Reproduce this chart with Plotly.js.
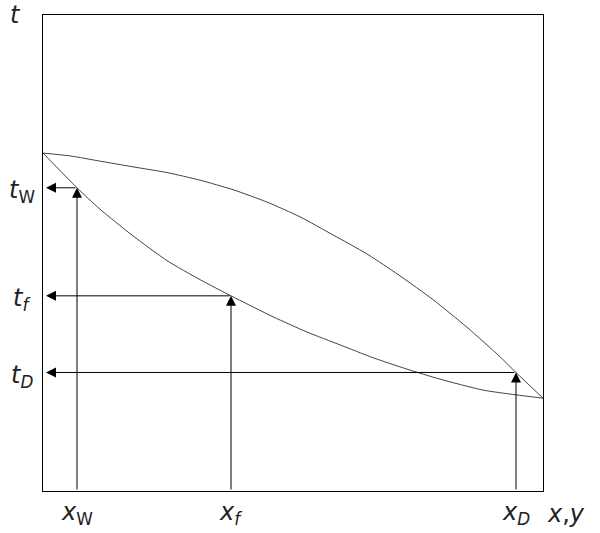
<!DOCTYPE html>
<html><head><meta charset="utf-8">
<script src="https://cdn.plot.ly/plotly-3.0.1.min.js"></script>
<style>body{margin:0;background:#fff}#c{width:600px;height:533px}</style>
</head><body><div id="c"></div>
<script>
// dew (vapour) curve
const dewX = [0, 5.4, 11.4, 18, 24.8, 31.4, 38, 44.8, 51.4, 58, 64.8, 71.4, 78, 84.8, 91.4, 94.6, 100];
const dewT = [71.0, 70.4, 69.3, 68.1, 66.9, 65.3, 63.3, 60.7, 57.6, 53.8, 49.8, 45.2, 40.2, 34.4, 28.2, 24.9, 19.5];
// bubble (liquid) curve
const bubX = [0, 6.8, 11.4, 18, 24.8, 31.4, 37.6, 46, 52.8, 59.4, 66, 72.8, 79.4, 88, 94.6, 100];
const bubT = [71.0, 63.7, 59.2, 53.6, 48.4, 44.4, 41.0, 36.6, 33.4, 30.7, 28.0, 25.6, 23.5, 21.2, 20.2, 19.5];
// construction points
const markX = [6.8, 37.6, 94.6];
const markT = [63.7, 41.0, 24.9];
const xLabels = ['<i>x</i><sub>W</sub>', '<i>x</i><sub><i>f</i></sub>', '<i>x</i><sub><i>D</i></sub>'];
const tLabels = ['<i>t</i><sub>W</sub>', '<i>t</i><sub><i>f</i></sub>', '<i>t</i><sub><i>D</i></sub>'];

const font = {family: 'DejaVu Sans, sans-serif', size: 24, color: '#222'};
const traces = [
  {x: dewX, y: dewT, mode: 'lines', line: {color: '#444', width: 1, shape: 'spline', smoothing: 0.6}, hoverinfo: 'skip'},
  {x: bubX, y: bubT, mode: 'lines', line: {color: '#444', width: 1, shape: 'spline', smoothing: 0.6}, hoverinfo: 'skip'}
];
const ann = [];
for (let i = 0; i < markX.length; i++) {
  ann.push({x: markX[i], y: markT[i], ax: markX[i], ay: 0, xref: 'x', yref: 'y', axref: 'x', ayref: 'y',
    showarrow: true, arrowhead: 2, arrowsize: 2, arrowwidth: 1, arrowcolor: '#000', text: ''});
  ann.push({x: 0.6, y: markT[i], ax: markX[i], ay: markT[i], xref: 'x', yref: 'y', axref: 'x', ayref: 'y',
    showarrow: true, arrowhead: 2, arrowsize: 2, arrowwidth: 1, arrowcolor: '#000', text: ''});
  ann.push({x: markX[i] / 100, y: -0.048, xref: 'paper', yref: 'paper', text: xLabels[i], showarrow: false, font: font, xanchor: 'center', yanchor: 'middle'});
  ann.push({x: -0.043, y: (markT[i] - 0.8) / 100, xref: 'paper', yref: 'paper', text: tLabels[i], showarrow: false, font: font, xanchor: 'center', yanchor: 'middle'});
}
ann.push({x: -0.056, y: 1.0, xref: 'paper', yref: 'paper', text: '<i>t</i>', showarrow: false, font: font, xanchor: 'center', yanchor: 'middle'});
ann.push({x: 1.045, y: -0.048, xref: 'paper', yref: 'paper', text: '<i>x</i>,<i>y</i>', showarrow: false, font: font, xanchor: 'center', yanchor: 'middle'});

const layout = {
  width: 600, height: 533,
  margin: {l: 43, r: 57, t: 15, b: 42},
  paper_bgcolor: '#fff', plot_bgcolor: '#fff',
  showlegend: false,
  xaxis: {range: [0, 100], showgrid: false, zeroline: false, showticklabels: false, ticks: '',
          showline: true, mirror: true, linecolor: '#000', linewidth: 1, fixedrange: true},
  yaxis: {range: [0, 100], showgrid: false, zeroline: false, showticklabels: false, ticks: '',
          showline: true, mirror: true, linecolor: '#000', linewidth: 1, fixedrange: true},
  annotations: ann
};
Plotly.newPlot('c', traces, layout, {staticPlot: true});
</script></body></html>
